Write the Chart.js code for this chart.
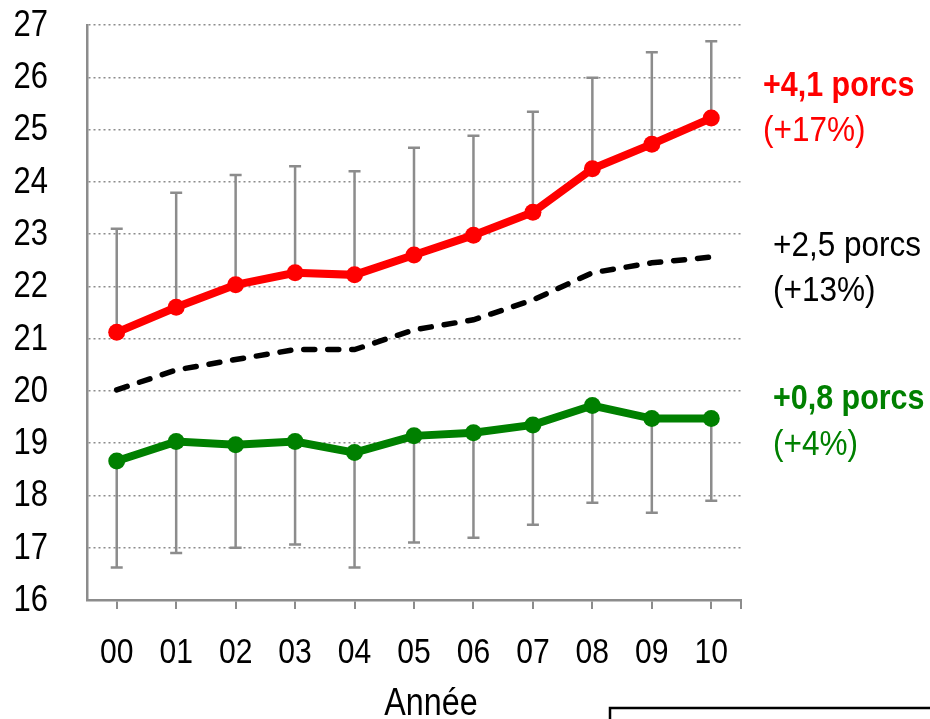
<!DOCTYPE html>
<html>
<head>
<meta charset="utf-8">
<script src="https://cdn.jsdelivr.net/npm/chart.js@4.4.0/dist/chart.umd.min.js"></script>
<style>
  html, body { margin: 0; padding: 0; background: #fff; }
  #wrap { width: 930px; height: 719px; position: relative; }
</style>
</head>
<body>
<div id="wrap"><canvas id="chart"></canvas></div>
<script>
var years = ["00", "01", "02", "03", "04", "05", "06", "07", "08", "09", "10"];

// top group (red), its upper error bar end
var topVals = [21.12, 21.6, 22.03, 22.26, 22.22, 22.6, 22.98, 23.42, 24.25, 24.72, 25.22];
var topErr  = [23.1, 23.79, 24.13, 24.3, 24.2, 24.65, 24.88, 25.34, 25.99, 26.48, 26.69];

// average (black dashed)
var avgVals = [20.02, 20.4, 20.6, 20.79, 20.79, 21.17, 21.36, 21.74, 22.26, 22.45, 22.56];

// bottom group (green), its lower error bar end
var lowVals = [18.66, 19.03, 18.97, 19.03, 18.82, 19.14, 19.2, 19.35, 19.72, 19.47, 19.47];
var lowErr  = [16.62, 16.9, 17.0, 17.06, 16.62, 17.1, 17.19, 17.44, 17.86, 17.67, 17.9];

var notes = [
  { text: '+4,1 porcs', color: '#ff0000', bold: true,  x: 763, y: 96 },
  { text: '(+17%)',     color: '#ff0000', bold: false, x: 763, y: 141 },
  { text: '+2,5 porcs', color: '#000000', bold: false, x: 773, y: 256 },
  { text: '(+13%)',     color: '#000000', bold: false, x: 773, y: 301 },
  { text: '+0,8 porcs', color: '#008000', bold: true,  x: 773, y: 409 },
  { text: '(+4%)',      color: '#008000', bold: false, x: 773, y: 455 }
];

var FONT = "'Liberation Sans', Arial, sans-serif";

// narrow look: squeeze text horizontally
function txt(ctx, s, x, y, size, bold, color, align, base, sx) {
  ctx.save();
  ctx.font = (bold ? 'bold ' : '') + size + 'px ' + FONT;
  ctx.fillStyle = color;
  ctx.textAlign = align;
  ctx.textBaseline = base;
  ctx.translate(x, y);
  ctx.scale(sx, 1);
  ctx.fillText(s, 0, 0);
  ctx.restore();
}

var errorBars = {
  id: 'errorBars',
  beforeDatasetsDraw: function(chart) {
    var ctx = chart.ctx, x = chart.scales.x, y = chart.scales.y;
    ctx.save();
    ctx.strokeStyle = '#8c8c8c';
    ctx.lineWidth = 2.5;
    function bar(i, from, to) {
      var px = x.getPixelForValue(i);
      var y0 = y.getPixelForValue(from), y1 = y.getPixelForValue(to);
      ctx.beginPath();
      ctx.moveTo(px, y0); ctx.lineTo(px, y1);
      ctx.moveTo(px - 6, y1); ctx.lineTo(px + 6, y1);
      ctx.stroke();
    }
    for (var i = 0; i < years.length; i++) {
      bar(i, topVals[i], topErr[i]);
      bar(i, lowVals[i], lowErr[i]);
    }
    ctx.restore();
  }
};

var extras = {
  id: 'extras',
  afterDraw: function(chart) {
    var ctx = chart.ctx, a = chart.chartArea, xs = chart.scales.x, ys = chart.scales.y;
    ctx.save();
    // end tick on x axis
    ctx.strokeStyle = '#8c8c8c';
    ctx.lineWidth = 2;
    ctx.beginPath();
    ctx.moveTo(a.right, a.bottom); ctx.lineTo(a.right, a.bottom + 9);
    ctx.stroke();
    ctx.restore();

    // tick labels
    ys.ticks.forEach(function(t) {
      txt(ctx, String(t.value), 48, ys.getPixelForValue(t.value) + 1, 36, false, '#000', 'right', 'middle', 0.86);
    });
    years.forEach(function(l, i) {
      txt(ctx, l, xs.getPixelForValue(i), 653, 35, false, '#000', 'center', 'middle', 0.86);
    });
    txt(ctx, 'Année', 431, 715, 38, false, '#000', 'center', 'alphabetic', 0.85);

    notes.forEach(function(n) {
      txt(ctx, n.text, n.x, n.y, 35, n.bold, n.color, 'left', 'alphabetic', n.bold ? 0.87 : 0.9);
    });

    // box at bottom right
    ctx.save();
    ctx.strokeStyle = '#000';
    ctx.lineWidth = 2.5;
    ctx.strokeRect(610, 708, 340, 40);
    ctx.restore();
  }
};

new Chart(document.getElementById('chart'), {
  type: 'line',
  data: {
    labels: years,
    datasets: [
      {
        data: topVals,
        borderColor: '#ff0000',
        backgroundColor: '#ff0000',
        borderWidth: 8,
        pointRadius: 8.5,
        pointBorderWidth: 0
      },
      {
        data: avgVals,
        borderColor: '#000',
        borderWidth: 5.5,
        borderCapStyle: 'round',
        borderDash: [11, 13],
        pointRadius: 0
      },
      {
        data: lowVals,
        borderColor: '#008000',
        backgroundColor: '#008000',
        borderWidth: 8,
        pointRadius: 8.5,
        pointBorderWidth: 0
      }
    ]
  },
  options: {
    responsive: true,
    maintainAspectRatio: false,
    animation: false,
    layout: { padding: { top: 25, right: 189, bottom: 0, left: 0 } },
    plugins: { legend: { display: false }, tooltip: { enabled: false } },
    scales: {
      x: {
        offset: true,
        afterFit: function(s) { s.height = 119; },
        grid: { offset: false, drawOnChartArea: false, color: '#8c8c8c', lineWidth: 2, tickLength: 9 },
        border: { color: '#8c8c8c', width: 2.5 },
        ticks: { display: false }
      },
      y: {
        min: 16,
        max: 27,
        afterFit: function(s) { s.width = 87; },
        grid: { color: '#8c8c8c', lineWidth: 1.5, drawTicks: false },
        border: { color: '#8c8c8c', width: 2.5, dash: [2, 3] },
        ticks: { stepSize: 1, display: false }
      }
    }
  },
  plugins: [errorBars, extras]
});
</script>
</body>
</html>
